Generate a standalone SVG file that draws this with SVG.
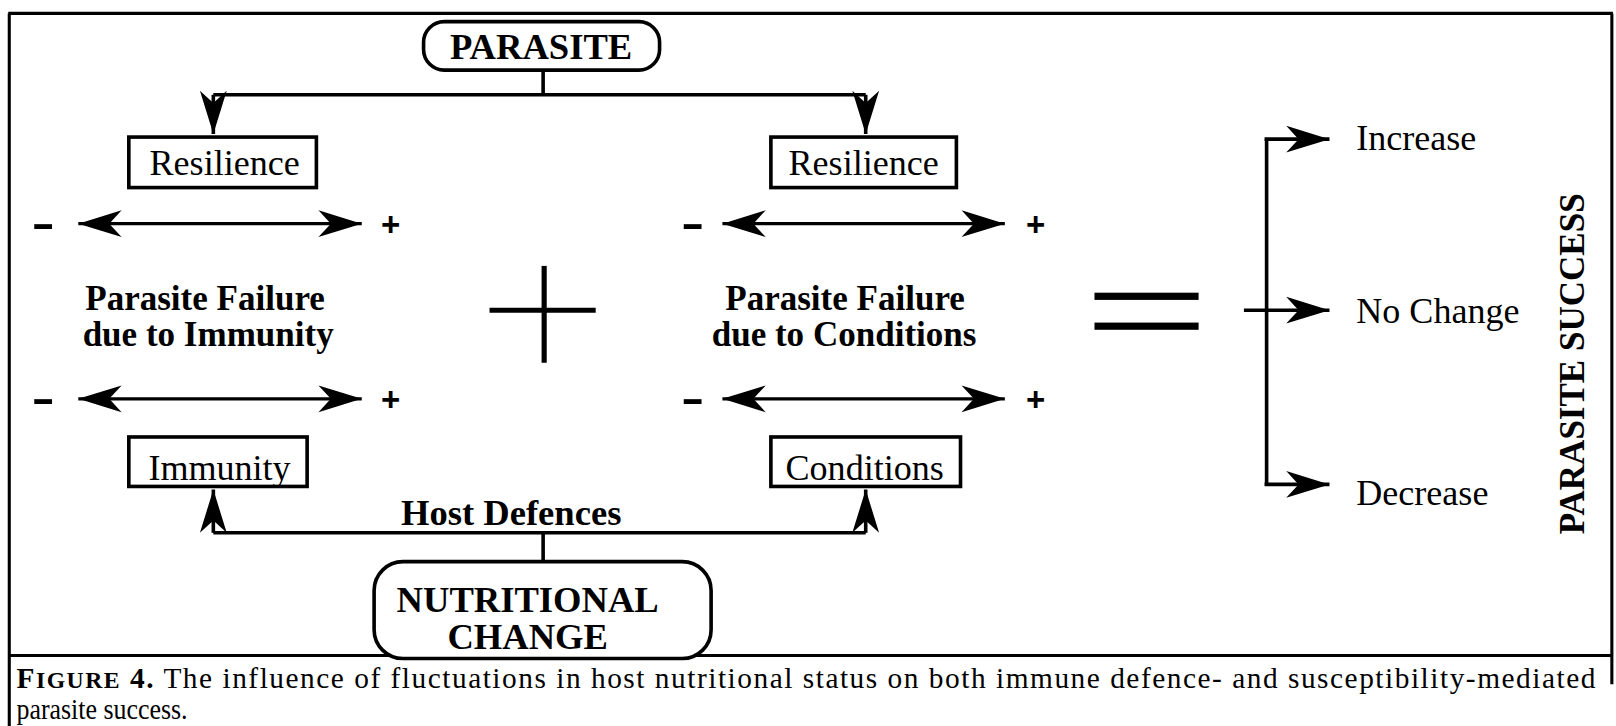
<svg xmlns="http://www.w3.org/2000/svg" width="1616" height="726" viewBox="0 0 1616 726">
<style>
.serif{font-family:"Liberation Serif","Times New Roman",serif;fill:#000}
.reg{font-size:35px}
.bold{font-size:34px;font-weight:bold}
.head{font-size:35.5px;font-weight:bold}
.sign{font-family:"Liberation Sans",Arial,sans-serif;font-weight:bold;fill:#000}
.minus{font-size:40px}
.plus{font-size:32px}
.box{fill:#fff;stroke:#000;stroke-width:3.5}
.line{fill:none;stroke:#000;stroke-width:3.5}
.dbl{fill:none;stroke:#000;stroke-width:3}
.cap{font-family:"Liberation Serif","Times New Roman",serif;font-size:28.5px;fill:#000}
</style>
<defs>
<marker id="ah" viewBox="-44 -15 46 30" refX="0" refY="0" markerWidth="46" markerHeight="30" markerUnits="userSpaceOnUse" orient="auto-start-reverse">
<path d="M0,0 L-42,-13 L-30,0 L-42,13 Z" fill="#000"/>
</marker>
</defs>
<rect width="1616" height="726" fill="#fff"/>
<g id="diagram" transform="scale(1.0306)">
<g id="frame" fill="none" stroke="#000" stroke-width="3">
<line x1="8" y1="13" x2="1565" y2="13"/>
<line x1="9" y1="13" x2="9" y2="712"/>
<line x1="1564" y1="13" x2="1564" y2="664"/>
<line x1="8" y1="636" x2="1565" y2="636"/>
</g>
<g id="connectors">
<polyline class="line" points="527,68 527,92"/>
<polyline class="line" points="207,92 840,92"/>
<line class="line" x1="207" y1="92" x2="207" y2="130" marker-end="url(#ah)"/>
<line class="line" x1="840" y1="92" x2="840" y2="130" marker-end="url(#ah)"/>
<line class="dbl" x1="76" y1="217" x2="351" y2="217" marker-start="url(#ah)" marker-end="url(#ah)"/>
<line class="dbl" x1="701" y1="217" x2="975" y2="217" marker-start="url(#ah)" marker-end="url(#ah)"/>
<line class="dbl" x1="76" y1="387" x2="351" y2="387" marker-start="url(#ah)" marker-end="url(#ah)"/>
<line class="dbl" x1="701" y1="387" x2="975" y2="387" marker-start="url(#ah)" marker-end="url(#ah)"/>
<polyline class="line" points="527,545 527,517"/>
<polyline class="line" points="207,517 840,517"/>
<line class="line" x1="207" y1="517" x2="207" y2="475" marker-end="url(#ah)"/>
<line class="line" x1="840" y1="517" x2="840" y2="475" marker-end="url(#ah)"/>
<polyline class="line" points="1229,135 1229,470"/>
<line class="line" x1="1227" y1="135" x2="1290" y2="135" marker-end="url(#ah)"/>
<line class="line" x1="1207" y1="301" x2="1290" y2="301" marker-end="url(#ah)"/>
<line class="line" x1="1227" y1="470" x2="1290" y2="470" marker-end="url(#ah)"/>
</g>
<g id="parasite">
<rect class="box" x="411" y="21" width="229" height="47" rx="20"/>
<text class="serif head" x="525" y="57" text-anchor="middle">PARASITE</text>
</g>
<g id="resilience-left">
<rect class="box" x="125" y="133" width="182" height="49"/>
<text class="serif reg" x="218" y="170" text-anchor="middle">Resilience</text>
</g>
<g id="resilience-right">
<rect class="box" x="748" y="133" width="180" height="49"/>
<text class="serif reg" x="838" y="170" text-anchor="middle">Resilience</text>
</g>
<g id="signs">
<text class="sign minus" transform="translate(42,230) scale(1.7,1)" text-anchor="middle">-</text>
<text class="sign plus" x="379" y="229" text-anchor="middle">+</text>
<text class="sign minus" transform="translate(672,230) scale(1.7,1)" text-anchor="middle">-</text>
<text class="sign plus" x="1005" y="229" text-anchor="middle">+</text>
<text class="sign minus" transform="translate(42,400) scale(1.7,1)" text-anchor="middle">-</text>
<text class="sign plus" x="379" y="399" text-anchor="middle">+</text>
<text class="sign minus" transform="translate(672,400) scale(1.7,1)" text-anchor="middle">-</text>
<text class="sign plus" x="1005" y="399" text-anchor="middle">+</text>
</g>
<g id="failure-immunity">
<text class="serif bold" x="199" y="301" text-anchor="middle">Parasite Failure</text>
<text class="serif bold" x="202" y="336" text-anchor="middle">due to Immunity</text>
</g>
<g id="plus-sign">
<line x1="528" y1="258" x2="528" y2="352" stroke="#000" stroke-width="5"/>
<line x1="475" y1="301" x2="578" y2="301" stroke="#000" stroke-width="5"/>
</g>
<g id="failure-conditions">
<text class="serif bold" x="820" y="301" text-anchor="middle">Parasite Failure</text>
<text class="serif bold" x="819" y="336" text-anchor="middle">due to Conditions</text>
</g>
<g id="equals">
<rect x="1062" y="284" width="101" height="7" fill="#000"/>
<rect x="1062" y="313" width="101" height="7" fill="#000"/>
</g>
<g id="immunity">
<rect class="box" x="125" y="424" width="173" height="48"/>
<text class="serif reg" x="213" y="466" text-anchor="middle">Immunity</text>
</g>
<g id="conditions">
<rect class="box" x="748" y="424" width="184" height="48"/>
<text class="serif reg" x="839" y="466" text-anchor="middle">Conditions</text>
</g>
<g id="host-defences">
<text class="serif head" x="496" y="509" text-anchor="middle">Host Defences</text>
</g>
<g id="nutritional-change">
<rect class="box" x="363" y="545" width="327" height="94" rx="28"/>
<text class="serif head" x="512" y="594" text-anchor="middle">NUTRITIONAL</text>
<text class="serif head" x="512" y="630" text-anchor="middle">CHANGE</text>
</g>
<g id="outcomes">
<text class="serif reg" x="1316" y="146">Increase</text>
<text class="serif reg" x="1316" y="313">No Change</text>
<text class="serif reg" x="1316" y="490">Decrease</text>
</g>
<g id="parasite-success">
<text class="serif" font-weight="bold" font-size="34" transform="translate(1537,353) rotate(-90)" text-anchor="middle">PARASITE SUCCESS</text>
</g>
<g id="caption">
<text class="cap" x="16" y="668" textLength="1532" lengthAdjust="spacing"><tspan font-weight="bold">F</tspan><tspan font-weight="bold" font-size="23">IGURE</tspan><tspan font-weight="bold"> 4.</tspan> The influence of fluctuations in host nutritional status on both immune defence- and susceptibility-mediated</text>
<text class="cap" x="16" y="698" textLength="166" lengthAdjust="spacingAndGlyphs">parasite success.</text>
</g>
</g>
</svg>
